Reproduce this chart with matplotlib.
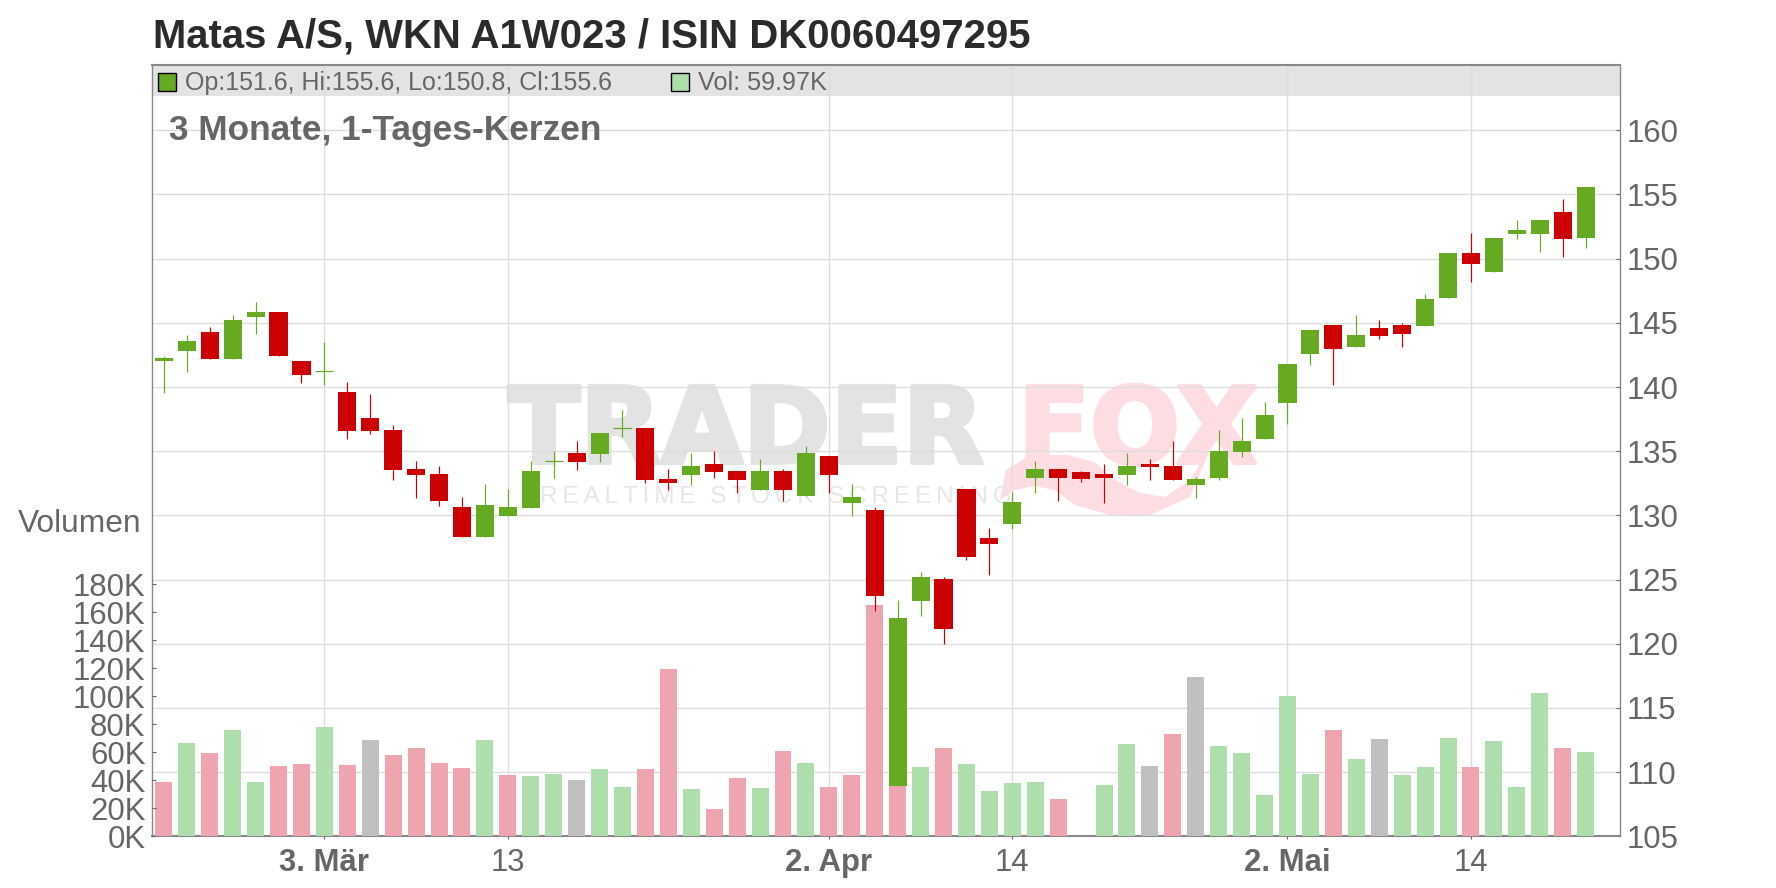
#!/usr/bin/env python3
"""Candlestick chart with volume bars for Matas A/S (3 months, daily candles)."""

import matplotlib
matplotlib.use("Agg")
import matplotlib.patheffects as pe
import matplotlib.pyplot as plt
from matplotlib.patches import PathPatch, Rectangle
from matplotlib.path import Path

W, H = 1776, 888

opens = [142.0, 142.77, 144.25, 142.22, 145.42, 145.88, 142.06, 141.26, 139.65, 137.62, 136.69,
         133.65, 133.26, 130.69, 128.35, 129.99, 130.61, 134.22, 134.87, 134.79, 136.79, 136.82,
         132.84, 133.16, 134.01, 133.47, 131.99, 133.47, 131.52, 134.64, 130.97, 130.43, 108.92,
         123.36, 125.05, 132.06, 128.25, 129.34, 132.92, 133.62, 133.39, 133.23, 133.16, 134.01,
         133.86, 132.38, 132.92, 134.95, 135.96, 138.78, 142.6, 144.86, 143.14, 144.62, 144.86,
         144.78, 146.96, 150.47, 148.99, 151.95, 151.95, 153.66, 151.6]
closes = [142.3, 143.62, 142.22, 145.26, 145.88, 142.38, 140.97, 141.26, 136.61, 136.61, 133.57,
          133.18, 131.16, 128.35, 130.84, 130.69, 133.49, 134.22, 134.17, 136.43, 136.79, 132.77,
          132.53, 133.86, 133.39, 132.77, 133.47, 131.99, 134.87, 133.16, 131.44, 123.73, 122.01,
          125.2, 121.16, 126.77, 127.78, 131.05, 133.62, 132.92, 132.84, 132.92, 133.86, 133.78,
          132.77, 132.84, 135.03, 135.81, 137.83, 141.82, 144.47, 142.99, 144.08, 144.0, 144.16,
          146.88, 150.47, 149.61, 151.64, 152.26, 153.04, 151.56, 155.6]
highs = [142.45, 144.09, 144.64, 145.65, 146.66, 145.88, 142.06, 143.47, 140.43, 139.49, 137.08,
         134.27, 133.88, 131.47, 132.48, 132.09, 134.27, 135.03, 135.81, 136.43, 138.22, 136.82,
         133.62, 134.87, 135.03, 133.47, 134.4, 133.62, 135.42, 134.64, 132.45, 130.66, 123.42,
         125.6, 125.2, 132.06, 129.03, 131.83, 134.25, 133.62, 133.47, 134.01, 134.87, 134.4,
         135.81, 133.0, 136.66, 137.6, 138.84, 141.82, 144.47, 144.86, 145.64, 145.25, 145.0,
         147.27, 150.47, 152.03, 151.64, 153.04, 153.04, 154.68, 155.6]
lows = [139.57, 141.2, 142.22, 142.22, 144.17, 142.38, 140.35, 140.19, 135.99, 136.38, 132.79,
        131.39, 130.77, 128.35, 128.35, 129.99, 130.61, 132.92, 133.55, 134.17, 136.12, 132.53,
        131.99, 132.38, 132.92, 131.75, 131.99, 131.13, 131.52, 131.75, 129.96, 122.56, 108.92,
        122.17, 119.99, 126.53, 125.36, 128.95, 131.75, 131.13, 132.61, 130.97, 132.38, 132.77,
        132.77, 131.36, 132.77, 134.56, 135.96, 137.14, 141.74, 140.18, 143.14, 143.77, 143.14,
        144.78, 146.96, 148.21, 148.99, 151.56, 150.55, 150.13, 150.8]

volumes = [38.8, 66.7, 59.5, 76.0, 38.8, 50.2, 51.7, 78.1, 51.0, 68.8, 58.1, 63.1, 52.4, 48.8, 68.8,
           43.8, 43.1, 44.5, 40.2, 48.1, 35.2, 48.1, 119.5, 33.8, 19.5, 41.7, 34.5, 61.0, 52.4, 35.2,
           43.8, 165.2, 36.0, 49.5, 63.1, 51.7, 32.4, 38.1, 38.8, 26.7, 0.0, 36.7, 66.0, 50.2, 73.1,
           113.8, 64.5, 59.5, 29.5, 100.2, 44.5, 76.0, 55.2, 69.5, 43.8, 49.5, 70.2, 49.5, 68.1,
           35.2, 102.4, 63.1, 59.97]
volume_kinds = list("rgrggrrgrnrrrrgrggnggrrgrrgrgrrr"
                    "rgrgggg" "rgg" "gnrngggggrgnggg" "rgggrg")

price_ticks = [105, 110, 115, 120, 125, 130, 135, 140, 145, 150, 155, 160]
volume_ticks = [0, 20, 40, 60, 80, 100, 120, 140, 160, 180]
date_ticks = [7, 15, 29, 37, 49, 57]
date_labels = ["3. Mär", "13", "2. Apr", "14", "2. Mai", "14"]
date_bold = [True, False, True, False, True, False]

GREEN = "#66aa22"
RED = "#cc0000"
VOL_COLORS = {"g": "#addeab", "r": "#efa5b0", "n": "#c0c0c0"}
TEXT = "#666666"
GRID = "#dddddd"
FRAME = "#888888"
PINK = "#fddde2"
GREY_LOGO = "#e3e3e3"
TICK_SIZE = 22.4

PLOT_LEFT, PLOT_RIGHT, PLOT_TOP, PLOT_BOTTOM = 152.4, 1620.0, 65.3, 836.3
BAND_BOTTOM = 96.0


def fx(px):
    return px / W


def fy(py):
    return 1 - py / H


def add_watermark(fig):
    for x, word, color in ((508, "TRADER", GREY_LOGO), (1018, "FOX", PINK)):
        fig.text(fx(x), fy(463), word, fontsize=76, fontweight="bold", family="DejaVu Sans",
                 color=color, zorder=-2, path_effects=[pe.withStroke(linewidth=3, foreground=color)])
    thin = "\u2009"
    slogan = (thin + thin + thin).join(thin.join(word) for word in ("REALTIME", "STOCK", "SCREENING"))
    fig.text(fx(540), fy(503), slogan, fontsize=17.6, color="#e6e6e6", zorder=-2)

    # swoosh under the logo, drawn in pixel positions of the picture
    pts = [(1000, 500), (1006, 470), (1030, 455), (1068, 455), (1094, 462), (1115, 480), (1140, 493),
           (1165, 497), (1190, 480), (1215, 440), (1235, 410), (1260, 386), (1240, 392),
           (1224, 412), (1210, 450), (1190, 497), (1150, 515), (1110, 515), (1075, 505), (1055, 490),
           (1035, 486), (1015, 490), (1000, 500)]
    codes = [Path.MOVETO] + [Path.LINETO] * (len(pts) - 2) + [Path.CLOSEPOLY]
    path = Path([(fx(x), fy(y)) for x, y in pts], codes)
    fig.add_artist(PathPatch(path, transform=fig.transFigure, facecolor=PINK, edgecolor=PINK,
                             linewidth=0, zorder=-2))


def plot_grid_axis(ax):
    ax.set_xlim(-0.5, 63.5)
    ax.set_ylim(105, 105 + (PLOT_BOTTOM - PLOT_TOP) / 12.836)
    ax.patch.set_visible(False)

    band_frac = (PLOT_BOTTOM - BAND_BOTTOM) / (PLOT_BOTTOM - PLOT_TOP)
    ax.add_patch(Rectangle((0, band_frac), 1, 1 - band_frac, transform=ax.transAxes,
                           facecolor="#e3e3e3", edgecolor="none", zorder=0.3))

    ax.yaxis.tick_right()
    ax.set_yticks(price_ticks)
    ax.tick_params(axis="y", direction="in", length=3.2, width=0.8, color="#666666",
                   labelsize=TICK_SIZE, labelcolor=TEXT, pad=5)
    ax.set_xticks(date_ticks)
    ax.set_xticklabels(date_labels)
    ax.tick_params(axis="x", direction="out", length=2.2, width=0.8, color="#666666",
                   labelsize=TICK_SIZE, labelcolor=TEXT, pad=6)
    for label, bold in zip(ax.get_xticklabels(), date_bold):
        label.set_fontweight("bold" if bold else "normal")

    ax.set_axisbelow(True)
    ax.grid(True, color=GRID, linewidth=1.0)
    for spine in ax.spines.values():
        spine.set_color(FRAME)
        spine.set_linewidth(1.0)
    ax.spines["bottom"].set_linewidth(1.5)
    ax.spines["top"].set_linewidth(1.5)


def plot_volume(ax):
    colors = [VOL_COLORS[k] for k in volume_kinds]
    ax.bar(range(len(volumes)), volumes, width=0.74, color=colors, linewidth=0)
    ax.set_xlim(-0.5, 63.5)
    ax.set_ylim(0, (PLOT_BOTTOM - PLOT_TOP) / 1.4)
    ax.patch.set_visible(False)
    ax.set_xticks([])
    ax.yaxis.tick_left()
    ax.set_yticks(volume_ticks)
    ax.set_yticklabels([f"{v}K" for v in volume_ticks])
    ax.tick_params(axis="y", direction="in", length=3.2, width=0.8, color="#666666",
                   labelsize=TICK_SIZE, labelcolor=TEXT, pad=5)
    for spine in ax.spines.values():
        spine.set_visible(False)


def plot_candles(ax):
    for i, (o, h, l, c) in enumerate(zip(opens, highs, lows, closes)):
        color = GREEN if c >= o else RED
        ax.vlines(i, l, h, color=color, linewidth=0.85)
        if o == c:
            ax.hlines(o, i - 0.395, i + 0.395, color=color, linewidth=0.85)
        else:
            ax.bar(i, abs(c - o), bottom=min(o, c), width=0.79, color=color, linewidth=0)
    ax.set_xlim(-0.5, 63.5)
    ax.set_ylim(105, 105 + (PLOT_BOTTOM - PLOT_TOP) / 12.836)
    ax.axis("off")


def add_texts(fig):
    fig.text(fx(153), fy(48), "Matas A/S, WKN A1W023 / ISIN DK0060497295", fontsize=28.9,
             fontweight="bold", color="#2b2b2b")
    fig.text(fx(169), fy(140), "3 Monate, 1-Tages-Kerzen", fontsize=25.4, fontweight="bold", color=TEXT)
    fig.text(fx(141), fy(524), "Volumen", fontsize=22.9, color=TEXT, ha="right", va="center")
    fig.text(fx(185), fy(90), "Op:151.6, Hi:155.6, Lo:150.8, Cl:155.6", fontsize=18, color=TEXT)
    fig.text(fx(698), fy(90), "Vol: 59.97K", fontsize=18.2, color=TEXT)
    for left, color in ((157.5, GREEN), (670.5, VOL_COLORS["g"])):
        fig.add_artist(Rectangle((fx(left), fy(91)), 18 / W, 18 / H, transform=fig.transFigure,
                                 facecolor=color, edgecolor="black", linewidth=1.0, zorder=5))


def main():
    plt.rcParams["font.family"] = ["Liberation Sans", "DejaVu Sans"]
    fig = plt.figure(figsize=(W / 100, H / 100), dpi=100)
    rect = [fx(PLOT_LEFT), 1 - PLOT_BOTTOM / H, (PLOT_RIGHT - PLOT_LEFT) / W, (PLOT_BOTTOM - PLOT_TOP) / H]

    add_watermark(fig)
    ax_grid = fig.add_axes(rect, zorder=1)
    ax_volume = fig.add_axes(rect, zorder=2)
    ax_candles = fig.add_axes(rect, zorder=3)

    plot_grid_axis(ax_grid)
    plot_volume(ax_volume)
    plot_candles(ax_candles)
    add_texts(fig)

    fig.savefig("out.png", dpi=100, facecolor="white")
    plt.close(fig)


if __name__ == "__main__":
    main()
